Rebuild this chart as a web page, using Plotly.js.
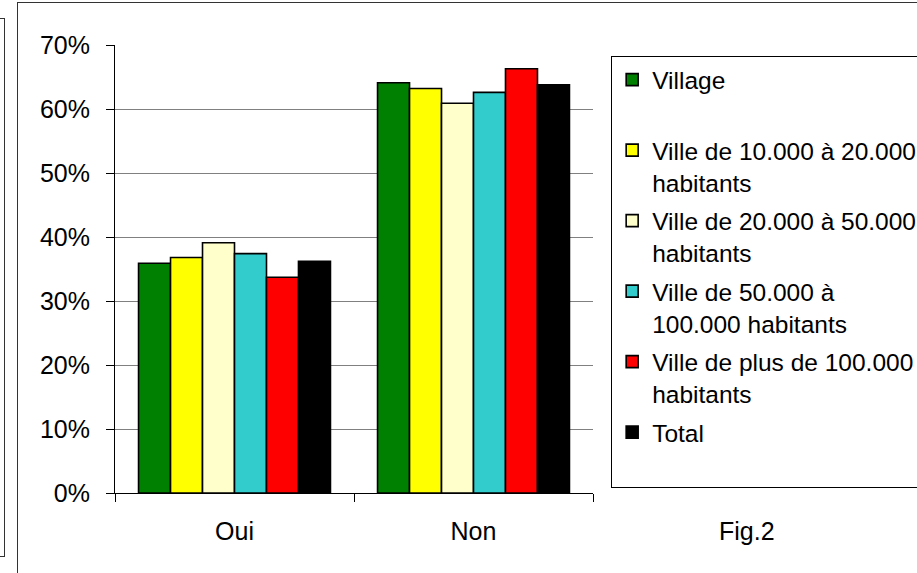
<!DOCTYPE html>
<html>
<head>
<meta charset="utf-8">
<script src="https://cdn.plot.ly/plotly-3.0.1.min.js"></script>
<style>
  html, body { margin: 0; padding: 0; background: #ffffff; }
  #wrap { position: relative; width: 917px; height: 573px; overflow: hidden; }
  #chart { position: absolute; left: 0; top: 0; width: 917px; height: 573px; }
  .frame { position: absolute; border: 1.5px solid #333333; pointer-events: none; box-sizing: border-box; }
</style>
</head>
<body>
<div id="wrap">
  <div id="chart"></div>
  <div class="frame" style="left:-10px; top:18px; width:15px; height:539px;"></div>
  <div class="frame" style="left:17px; top:2px; width:920px; height:600px;"></div>
</div>
<script>
// Categories (x axis)
var categories = ['Oui', 'Non'];

// Series values (share of respondents)
var village      = [0.359, 0.641];
var ville10_20   = [0.368, 0.632];
var ville20_50   = [0.391, 0.609];
var ville50_100  = [0.374, 0.626];
var villePlus100 = [0.337, 0.663];
var total        = [0.362, 0.638];

// Legend labels
var seriesNames = [
  'Village<br>\u00a0',
  'Ville de 10.000 à 20.000<br>habitants',
  'Ville de 20.000 à 50.000<br>habitants',
  'Ville de 50.000 à<br>100.000 habitants',
  'Ville de plus de 100.000<br>habitants',
  'Total<br>\u00a0'
];
var seriesValues = [village, ville10_20, ville20_50, ville50_100, villePlus100, total];
var seriesColors = ['#008000', '#FFFF00', '#FFFFCC', '#33CCCC', '#FF0000', '#000000'];

// Y ticks
var yTickVals = [0, 0.1, 0.2, 0.3, 0.4, 0.5, 0.6, 0.7];
var yTickText = ['0%', '10%', '20%', '30%', '40%', '50%', '60%', '70%'];

var font = 'Arial, "Liberation Sans", sans-serif';

var traces = seriesValues.map(function (vals, i) {
  return {
    type: 'bar',
    name: seriesNames[i],
    x: categories,
    y: vals,
    legendgroup: 'g' + i,
    marker: { color: seriesColors[i], line: { color: '#000000', width: 1.6 } },
    hoverinfo: 'none'
  };
});

var layout = {
  width: 917,
  height: 573,
  margin: { l: 115, r: 324, t: 45, b: 80, autoexpand: false },
  paper_bgcolor: '#ffffff',
  plot_bgcolor: '#ffffff',
  barmode: 'group',
  bargap: 0.197,
  bargroupgap: 0,
  showlegend: true,
  font: { family: font, color: '#000000', size: 24 },
  xaxis: {
    type: 'category',
    showgrid: false,
    showline: true,
    linecolor: '#000000',
    linewidth: 1,
    ticks: 'outside',
    tickson: 'boundaries',
    ticklen: 8,
    tickcolor: '#000000',
    tickwidth: 1,
    ticklabelstandoff: 16,
    tickfont: { family: font, size: 25, color: '#000000' },
    zeroline: false
  },
  yaxis: {
    range: [0, 0.7],
    tickvals: yTickVals,
    ticktext: yTickText,
    showgrid: true,
    gridcolor: '#808080',
    gridwidth: 1,
    showline: true,
    linecolor: '#000000',
    linewidth: 1,
    ticks: 'outside',
    ticklen: 8,
    tickcolor: '#000000',
    tickwidth: 1,
    ticklabelstandoff: 11,
    tickfont: { family: font, size: 25, color: '#000000' },
    zeroline: false
  },
  legend: {
    x: 1.038,
    y: 0.975,
    xanchor: 'left',
    yanchor: 'top',
    bordercolor: '#000000',
    borderwidth: 1,
    bgcolor: '#ffffff',
    valign: 'top',
    tracegroupgap: 3.8,
    font: { family: font, size: 24.5, color: '#000000' }
  },
  annotations: [{
    text: 'Fig.2',
    xref: 'paper',
    yref: 'paper',
    x: 1.322,
    y: -0.085,
    xanchor: 'center',
    yanchor: 'middle',
    showarrow: false,
    font: { family: font, size: 25, color: '#000000' }
  }]
};

Plotly.newPlot('chart', traces, layout, { displayModeBar: false, staticPlot: true });
</script>
</body>
</html>
